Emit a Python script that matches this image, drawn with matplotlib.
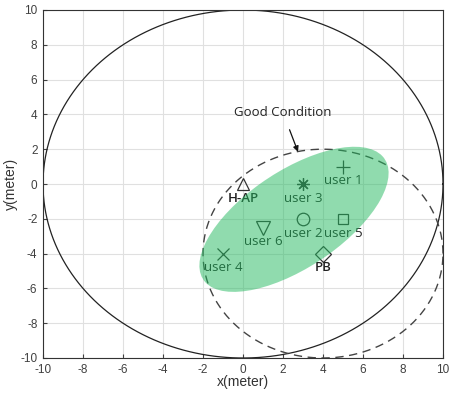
import numpy as np
import matplotlib
import matplotlib.pyplot as plt
from matplotlib.patches import Ellipse

matplotlib.use('Agg')
plt.rcParams['font.family'] = ['Liberation Sans', 'DejaVu Sans']
plt.rcParams['axes.unicode_minus'] = False

# node positions (meter)
names = ['H-AP', 'user 1', 'user 3', 'user 2', 'user 5', 'user 6', 'user 4', 'PB']
xs = [0, 5, 3, 3, 5, 1, -1, 4]
ys = [0, 1, 0, -2, -2, -2.5, -4, -4]
markers = ['^', '+', (8, 2, 0), 'o', 's', 'v', 'x', 'D']
sizes = [9, 10, 9, 9, 7, 10, 8, 8]

# coverage circles: (cx, cy, r)
outer_circle = (0, 0, 10)
good_circle = (4, -4, 6)

# region of users: center, width, height, angle
region_center = (2.55, -2.03)
region_w, region_h, region_angle = 11.44, 5.31, 39.4

ticks = [-10, -8, -6, -4, -2, 0, 2, 4, 6, 8, 10]


def circle_xy(cx, cy, r):
    t = np.linspace(0, 2 * np.pi, 400)
    return cx + r * np.cos(t), cy + r * np.sin(t)


fig = plt.figure(figsize=(4.5, 3.99), dpi=100)
ax = fig.add_axes([43 / 450, 41 / 399, 400 / 450, 348 / 399])

ax.set_xlim(-10, 10)
ax.set_ylim(-10, 10)
ax.set_xticks(ticks)
ax.set_yticks(ticks)
ax.grid(True, color='#e0e0e0', linewidth=0.8)
ax.set_axisbelow(True)
ax.tick_params(direction='in', length=3, pad=4, labelsize=8.5, colors='#404040',
               labelcolor='#404040')
for s in ax.spines.values():
    s.set_color('#333333')
    s.set_linewidth(0.8)

cx, cy = circle_xy(*outer_circle)
ax.plot(cx, cy, color='#222222', linewidth=0.9)
cx, cy = circle_xy(*good_circle)
ax.plot(cx, cy, color='#444444', linewidth=1.0, linestyle=(0, (6, 4)))

for name, x, y, m, ms in zip(names, xs, ys, markers, sizes):
    filled = m in ('+', 'x') or isinstance(m, tuple)
    ax.plot(x, y, marker=m, markersize=ms, linestyle='none',
            color='#333333',
            markerfacecolor='#333333' if filled else 'none',
            markeredgewidth=0.9)
    bold = name in ('H-AP', 'PB')
    ax.text(x, y - 0.45, name, ha='center', va='top',
            family=['Open Sans', 'DejaVu Sans'],
            fontsize=9.5, color='#222222',
            fontweight='semibold' if bold else 'normal')

ax.add_patch(Ellipse(region_center, region_w, region_h, angle=region_angle,
                     facecolor='#23b95f', edgecolor='none', alpha=0.5,
                     zorder=5))

ax.annotate('Good Condition', xy=(2.75, 1.85), xytext=(2.0, 4.1),
            ha='center', va='center', fontsize=9.5, color='#222222',
            family=['Open Sans', 'DejaVu Sans'],
            arrowprops=dict(arrowstyle='-|>', color='#111111', lw=0.9,
                            mutation_scale=8, shrinkA=6, shrinkB=0))

ax.set_xlabel('x(meter)', fontsize=10, color='#333333')
ax.set_ylabel('y(meter)', fontsize=10, color='#333333')
ax.xaxis.set_label_coords(0.5, -0.05)
ax.yaxis.set_label_coords(-0.062, 0.5)

fig.savefig('out.png', dpi=100)
